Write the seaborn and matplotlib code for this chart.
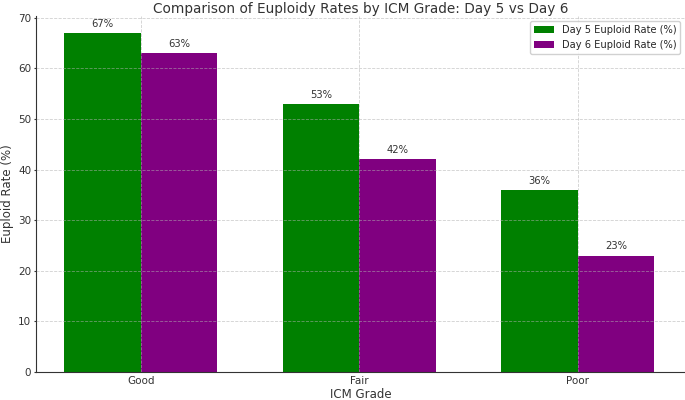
import pandas as pd
import seaborn as sns
import matplotlib.pyplot as plt

grades = ['Good', 'Fair', 'Poor']
day5_rates = [67, 53, 36]
day6_rates = [63, 42, 23]
series_names = ['Day 5 Euploid Rate (%)', 'Day 6 Euploid Rate (%)']

df = pd.DataFrame({
    'ICM Grade': grades * 2,
    'Rate': day5_rates + day6_rates,
    'Series': [series_names[0]] * 3 + [series_names[1]] * 3,
})

sns.set_style('white')
plt.rcParams['font.family'] = ['DejaVu Sans']

fig = plt.figure(figsize=(6.85, 4), dpi=100)
ax = fig.add_axes([0.0526, 0.07, 0.9474, 0.89])
sns.barplot(data=df, x='ICM Grade', y='Rate', hue='Series',
            palette=['green', 'purple'], width=0.7, linewidth=0,
            saturation=1, ax=ax)

for container in ax.containers:
    ax.bar_label(container, labels=[f'{v:.0f}%' for v in container.datavalues],
                 padding=3, fontsize=7.2, color='#333333')

ax.set_xlim(-0.48, 2.49)
ax.set_ylim(0, 70.35)
ax.grid(True, linestyle='--', color='#b0b0b0', alpha=0.6, linewidth=0.6)
ax.set_axisbelow('line')
for s in ['top', 'right']:
    ax.spines[s].set_visible(False)
ax.spines['left'].set_color('#333333')
ax.spines['bottom'].set_color('#333333')
ax.tick_params(axis='y', labelsize=7.5, colors='#333333', length=1.5, pad=2, left=True)
ax.tick_params(axis='x', labelsize=7.5, colors='#333333', length=0, pad=3)
ax.set_title('Comparison of Euploidy Rates by ICM Grade: Day 5 vs Day 6',
             fontsize=9.8, color='#333333', pad=2)
ax.set_xlabel('ICM Grade', fontsize=8.5, color='#333333', labelpad=1)
ax.set_ylabel('Euploid Rate (%)', fontsize=8.5, color='#333333', labelpad=3)
ax.legend(loc='upper right', fontsize=7.1, framealpha=0.9)

fig.savefig('out.png', dpi=100)
